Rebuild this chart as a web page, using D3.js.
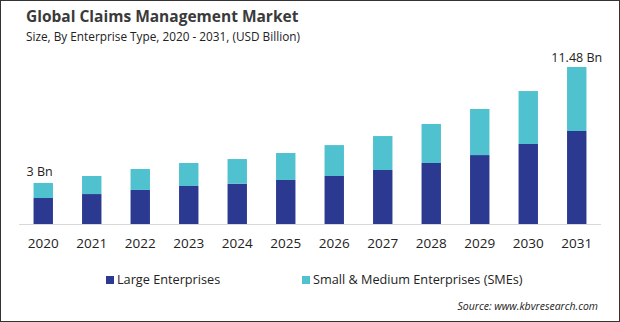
<!DOCTYPE html>
<html>
<head>
<meta charset="utf-8">
<script src="https://cdn.jsdelivr.net/npm/d3@7"></script>
<style>
  body { margin: 0; background: #fff; }
  svg text { font-family: "Open Sans", "Noto Sans", sans-serif; fill: #222; }
</style>
</head>
<body>
<div id="chart"></div>
<script>
const width = 620;
const height = 322;

const years = ["2020", "2021", "2022", "2023", "2024", "2025", "2026", "2027", "2028", "2029", "2030", "2031"];
const largeEnterprises = [1.90, 2.19, 2.49, 2.78, 2.95, 3.22, 3.51, 3.95, 4.46, 5.04, 5.85, 6.80];
const smeEnterprises = [1.10, 1.32, 1.53, 1.68, 1.80, 1.97, 2.26, 2.48, 2.85, 3.37, 3.87, 4.68];
const seriesNames = ["Large Enterprises", "Small & Medium Enterprises (SMEs)"];
const colors = ["#2b3990", "#4fc1cf"];

const svg = d3.select("#chart")
    .append("svg")
    .attr("width", width)
    .attr("height", height);

// outer frame
svg.append("rect")
    .attr("x", 0.5).attr("y", 0.5)
    .attr("width", width - 1).attr("height", height - 1)
    .attr("fill", "#fff")
    .attr("stroke", "#333");

svg.append("text")
    .attr("x", 26).attr("y", 22)
    .style("font-size", "15.5px")
    .style("font-weight", "bold")
    .style("fill", "#3a3a3a")
    .text("Global Claims Management Market");

svg.append("text")
    .attr("x", 26).attr("y", 41)
    .style("font-size", "11.8px")
    .text("Size, By Enterprise Type, 2020 - 2031, (USD Billion)");

const data = years.map((y, i) => ({ year: y, large: largeEnterprises[i], sme: smeEnterprises[i] }));
const stacked = d3.stack().keys(["large", "sme"])(data);

const x = d3.scaleBand()
    .domain(years)
    .range([19, 601])
    .paddingInner(0.6)
    .paddingOuter(0.3);

const y = d3.scaleLinear()
    .domain([0, 11.48])
    .range([224, 67]);

svg.append("g")
    .selectAll("g")
    .data(stacked)
    .join("g")
    .attr("fill", (d, i) => colors[i])
    .selectAll("rect")
    .data(d => d)
    .join("rect")
    .attr("x", d => x(d.data.year))
    .attr("width", x.bandwidth())
    .attr("y", d => y(d[1]))
    .attr("height", d => y(d[0]) - y(d[1]));

// baseline
svg.append("line")
    .attr("x1", 19).attr("x2", 601)
    .attr("y1", y(0) + 0.5).attr("y2", y(0) + 0.5)
    .attr("stroke", "#d9d9d9");

const xAxis = svg.append("g")
    .attr("transform", `translate(0,${y(0)})`)
    .call(d3.axisBottom(x).tickSize(0).tickPadding(14));
xAxis.select(".domain").remove();
xAxis.selectAll("text")
    .style("font-size", "13.5px")
    .style("fill", "#222");

// value labels on first and last bar
const first = data[0], last = data[data.length - 1];
svg.append("text")
    .attr("x", x(first.year) - 7)
    .attr("y", y(first.large + first.sme) - 7)
    .style("font-size", "12.5px")
    .text("3 Bn");

svg.append("text")
    .attr("x", x(last.year) + x.bandwidth() / 2)
    .attr("y", y(last.large + last.sme) - 5)
    .attr("text-anchor", "middle")
    .style("font-size", "12.5px")
    .text("11.48  Bn");

// legend
const legendX = [106, 302];
const legend = svg.append("g")
    .selectAll("g")
    .data(seriesNames)
    .join("g")
    .attr("transform", (d, i) => `translate(${legendX[i]},276)`);
legend.append("rect")
    .attr("width", 8).attr("height", 8)
    .attr("fill", (d, i) => colors[i]);
legend.append("text")
    .attr("x", 11).attr("y", 8)
    .style("font-size", "12.7px")
    .text(d => d);

svg.append("text")
    .attr("x", 598).attr("y", 310)
    .attr("text-anchor", "end")
    .style("font-size", "10.5px")
    .style("font-style", "italic")
    .text("Source: www.kbvresearch.com");
</script>
</body>
</html>
